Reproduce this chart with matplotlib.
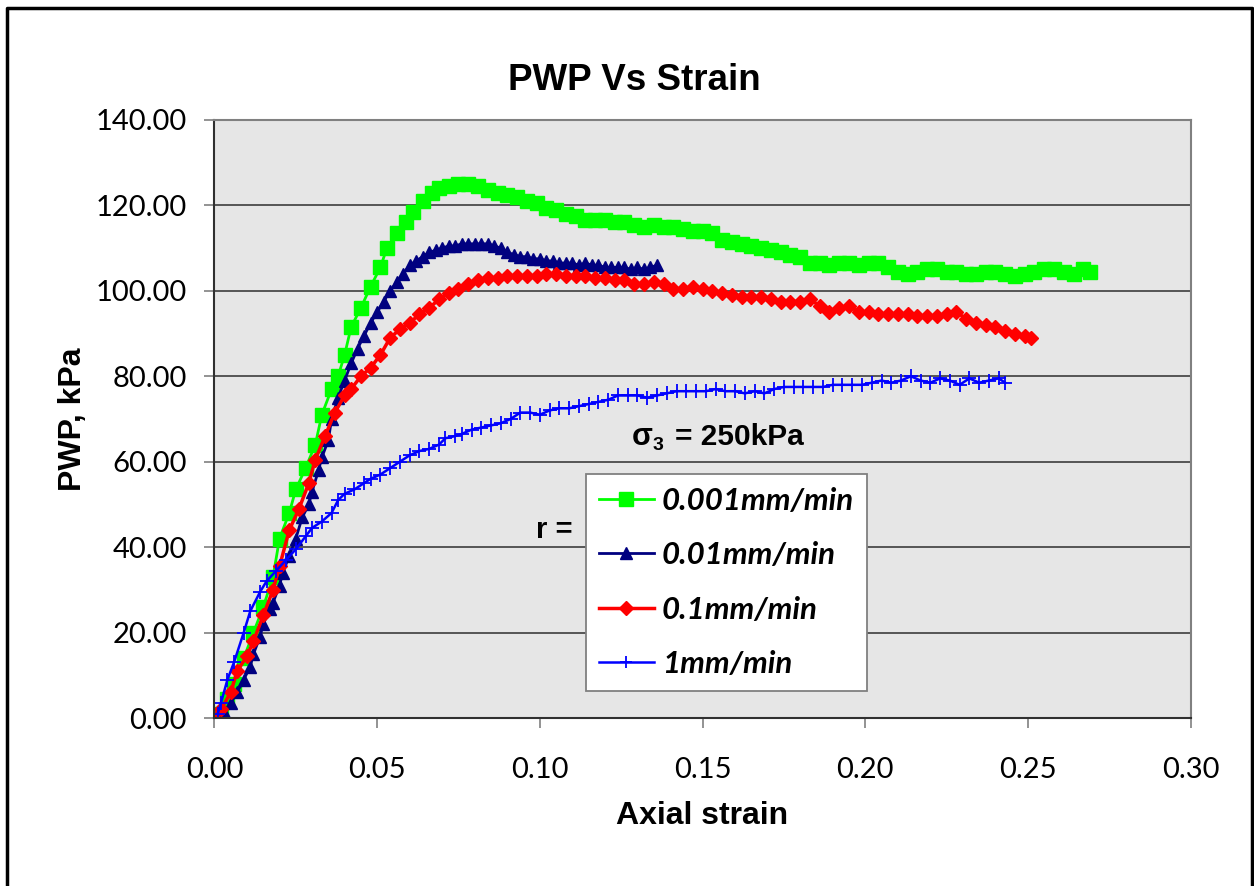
"""
PWP vs axial strain for four loading rates
"""

import matplotlib
matplotlib.use('Agg')
import matplotlib.pyplot as plt
from matplotlib.lines import Line2D
from matplotlib.ticker import FormatStrFormatter

# data
green_strain = [0.000, 0.002, 0.004, 0.006, 0.009, 0.012, 0.015, 0.018, 0.020, 0.023, 0.025, 0.028,
                0.031, 0.033, 0.036, 0.038, 0.040, 0.042, 0.045, 0.048, 0.051, 0.053, 0.056, 0.059,
                0.061, 0.064, 0.067, 0.069, 0.072, 0.075, 0.078, 0.081, 0.084, 0.087, 0.090, 0.093,
                0.096, 0.099, 0.102, 0.105, 0.108, 0.111, 0.114, 0.117, 0.120, 0.123, 0.126, 0.129,
                0.132, 0.135, 0.138, 0.141, 0.144, 0.147, 0.150, 0.153, 0.156, 0.159, 0.162, 0.165,
                0.168, 0.171, 0.174, 0.177, 0.180, 0.183, 0.186, 0.189, 0.192, 0.195, 0.198, 0.201,
                0.204, 0.207, 0.210, 0.213, 0.216, 0.219, 0.222, 0.225, 0.228, 0.231, 0.234, 0.237,
                0.240, 0.243, 0.246, 0.249, 0.252, 0.255, 0.258, 0.261, 0.264, 0.267, 0.269]
green_pwp = [0, 1, 4.5, 8, 14, 20, 26, 33, 42, 48, 53.5, 58.5,
             64, 71, 77, 80, 85, 91.5, 96, 101, 105.5, 110, 113.5, 116,
             118.5, 121, 123, 124, 124.5, 125, 125, 124.5, 123.5, 123, 122.5, 122,
             121, 120.5, 119.5, 119, 118, 117.5, 116.5, 116.5, 116.5, 116, 116, 115.5,
             115, 115.5, 115, 115, 114.5, 114, 114, 113.5, 112, 111.5, 111, 110.5,
             110, 109.5, 109, 108.5, 108, 106.5, 106.5, 106, 106.5, 106.5, 106, 106.5,
             106.5, 105.5, 104.5, 104, 104.5, 105, 105, 104.5, 104.5, 104, 104, 104.5,
             104.5, 104, 103.5, 104, 104.5, 105, 105, 104.5, 104, 105, 104.5]

navy_strain = [0.000, 0.003, 0.005, 0.007, 0.009, 0.011, 0.012, 0.014, 0.015, 0.017, 0.018, 0.020,
               0.021, 0.023, 0.025, 0.027, 0.029, 0.030, 0.032, 0.033, 0.035, 0.036, 0.038, 0.040,
               0.042, 0.044, 0.046, 0.048, 0.050, 0.052, 0.054, 0.056, 0.058, 0.060, 0.062, 0.064,
               0.066, 0.068, 0.070, 0.072, 0.074, 0.076, 0.078, 0.080, 0.082, 0.084, 0.086, 0.088,
               0.090, 0.092, 0.094, 0.096, 0.098, 0.100, 0.102, 0.104, 0.106, 0.108, 0.110, 0.112,
               0.114, 0.116, 0.118, 0.120, 0.122, 0.124, 0.126, 0.128, 0.130, 0.132, 0.134, 0.136]
navy_pwp = [0, 1.5, 3.5, 6, 9, 12, 15, 19, 22, 25.5, 27, 31,
            34, 38, 42, 47, 50, 53, 58, 61, 65, 70, 75, 79,
            83, 86.5, 89.5, 92.5, 95, 97.5, 100, 102, 104, 106, 107, 108,
            109, 109.5, 110, 110.5, 110.5, 111, 111, 111, 111, 111, 110.5, 110,
            109, 108.5, 108, 108, 107.5, 107.5, 107, 107, 106.5, 106.5, 106.5, 106,
            106.5, 106, 106, 105.5, 105.5, 105.5, 105.5, 105, 105.5, 105, 105.5, 106]

red_strain = [0.000, 0.002, 0.005, 0.007, 0.010, 0.012, 0.015, 0.018, 0.020, 0.023, 0.026, 0.029,
              0.031, 0.034, 0.037, 0.040, 0.042, 0.045, 0.048, 0.051, 0.054, 0.057, 0.060, 0.063,
              0.066, 0.069, 0.072, 0.075, 0.078, 0.081, 0.084, 0.087, 0.090, 0.093, 0.096, 0.099,
              0.102, 0.105, 0.108, 0.111, 0.114, 0.117, 0.120, 0.123, 0.126, 0.129, 0.132, 0.135,
              0.138, 0.141, 0.144, 0.147, 0.150, 0.153, 0.156, 0.159, 0.162, 0.165, 0.168, 0.171,
              0.174, 0.177, 0.180, 0.183, 0.186, 0.189, 0.192, 0.195, 0.198, 0.201, 0.204, 0.207,
              0.210, 0.213, 0.216, 0.219, 0.222, 0.225, 0.228, 0.231, 0.234, 0.237, 0.240, 0.243,
              0.246, 0.249, 0.251]
red_pwp = [0, 2, 6, 11, 14.5, 18, 24, 30, 35.5, 44, 49, 55,
           60.5, 66, 71.5, 75.5, 77, 80, 82, 85, 89, 91, 92.5, 94.5,
           96, 98, 99.5, 100.5, 101.5, 102.5, 103, 103, 103.5, 103.5, 103.5, 103.5,
           104, 104, 103.5, 103.5, 103.5, 103, 103, 102.5, 102.5, 101.5, 101.5, 102,
           101.5, 100.5, 100.5, 101, 100.5, 100, 99.5, 99, 98.5, 98.5, 98.5, 98,
           97.5, 97.5, 97.5, 98, 96.5, 95, 96, 96.5, 95, 95, 94.5, 94.5,
           94.5, 94.5, 94, 94, 94, 94.5, 95, 93.5, 92.5, 92, 91.5, 90.5,
           90, 89.5, 89]

blue_strain = [0.001, 0.002, 0.004, 0.006, 0.009, 0.011, 0.014, 0.016, 0.019, 0.022, 0.025, 0.028,
               0.030, 0.033, 0.036, 0.038, 0.040, 0.043, 0.046, 0.048, 0.051, 0.054, 0.057, 0.060,
               0.063, 0.066, 0.069, 0.071, 0.074, 0.076, 0.079, 0.082, 0.085, 0.088, 0.091, 0.094,
               0.097, 0.100, 0.103, 0.106, 0.109, 0.112, 0.115, 0.118, 0.121, 0.124, 0.127, 0.130,
               0.133, 0.136, 0.139, 0.142, 0.145, 0.148, 0.151, 0.154, 0.157, 0.160, 0.163, 0.166,
               0.169, 0.172, 0.175, 0.178, 0.181, 0.184, 0.187, 0.190, 0.193, 0.196, 0.199, 0.202,
               0.205, 0.208, 0.211, 0.214, 0.217, 0.220, 0.223, 0.226, 0.229, 0.232, 0.235, 0.238,
               0.241, 0.243]
blue_pwp = [1, 3.5, 9, 13, 20, 25, 29.5, 32, 34.5, 37, 39.5, 42.5,
            44.5, 46, 48, 51, 52.5, 53.5, 55, 56, 57, 58.5, 60, 61.5,
            62.5, 63, 64, 65.5, 66, 66.5, 67.5, 68, 68.5, 69, 70, 71.5,
            71.5, 71, 72, 72.5, 72.5, 73, 73.5, 74, 74.5, 75.5, 75.5, 75.5,
            75, 75.5, 76, 76.5, 76.5, 76.5, 76.5, 77, 76.5, 76.5, 76, 76.5,
            76, 77, 77.5, 77.5, 77.5, 77.5, 77.5, 78, 78, 78, 78, 78.5,
            79, 78.5, 79, 80, 79, 78.5, 79.5, 79, 78, 79.5, 78.5, 79,
            79.5, 78.5]

labels = ['0.001mm/min', '0.01mm/min', '0.1mm/min', '1mm/min']

fig = plt.figure(figsize=(12.54, 8.86), dpi=100)
ax = fig.add_axes([0.171, 0.1896, 0.7785, 0.675])
ax.set_facecolor('#e6e6e6')

ax.plot(green_strain, green_pwp, color='#00ff00', lw=2, marker='s', ms=10.5,
        mec='#00ff00', label=labels[0])
ax.plot(navy_strain, navy_pwp, color='#000080', lw=2, marker='^', ms=9,
        mec='#000080', label=labels[1])
ax.plot(red_strain, red_pwp, color='#ff0000', lw=2.5, marker='D', ms=7.5,
        mec='#ff0000', label=labels[2])
ax.plot(blue_strain, blue_pwp, color='#0000ff', lw=1.8, marker='+', ms=10,
        mew=1.3, label=labels[3])

ax.set_xlim(0, 0.30)
ax.set_ylim(0, 140)
ax.set_xticks([0, 0.05, 0.10, 0.15, 0.20, 0.25, 0.30])
ax.set_yticks(range(0, 141, 20))
ax.xaxis.set_major_formatter(FormatStrFormatter('%.2f'))
ax.yaxis.set_major_formatter(FormatStrFormatter('%.2f'))
ax.yaxis.grid(True, color='#4a4a4a', lw=1.3)
ax.set_axisbelow(True)
ax.tick_params(direction='out', length=7, width=1.2, color='#808080')
ax.tick_params(axis='y', pad=13)
ax.tick_params(axis='x', pad=21)
for lab in ax.get_xticklabels() + ax.get_yticklabels():
    lab.set_fontfamily('Lato')
    lab.set_fontsize(21)

for side in ['top', 'right']:
    ax.spines[side].set_color('#808080')
    ax.spines[side].set_linewidth(1.5)
for side in ['left', 'bottom']:
    ax.spines[side].set_color('#303030')
    ax.spines[side].set_linewidth(1.5)

ax.set_xlabel('Axial strain', fontfamily='Liberation Sans', fontweight='bold',
              fontsize=23, labelpad=13)
ax.set_ylabel('PWP, kPa', fontfamily='Liberation Sans', fontweight='bold',
              fontsize=23, labelpad=5)
fig.text(0.506, 0.909, 'PWP Vs Strain', ha='center', va='center',
         fontfamily='Liberation Sans', fontweight='bold', fontsize=26.5)

# sigma_3 annotation
ax.text(0.427, 0.47, 'σ', transform=ax.transAxes, ha='left', va='center',
        fontfamily='Liberation Sans', fontweight='bold', fontsize=22)
ax.text(0.449, 0.455, '3', transform=ax.transAxes, ha='left', va='center',
        fontfamily='Liberation Sans', fontweight='bold', fontsize=14)
ax.text(0.4717, 0.47, '= 250kPa', transform=ax.transAxes, ha='left', va='center',
        fontfamily='Liberation Sans', fontweight='bold', fontsize=21.5)
ax.text(0.329, 0.314, 'r =', transform=ax.transAxes, ha='left', va='center',
        fontfamily='Liberation Sans', fontweight='bold', fontsize=21)

leg = ax.legend(loc='upper left', bbox_to_anchor=(0.3806, 0.408), borderaxespad=0,
                fancybox=False, framealpha=1, edgecolor='#808080', facecolor='white',
                prop={'family': 'Lato', 'weight': 'bold', 'style': 'italic', 'size': 22.5},
                handlelength=1.75, handletextpad=0.25, labelspacing=0.84, borderpad=0.42,
                markerscale=0.9)
leg.get_frame().set_linewidth(1.3)

# outer chart border
fig.add_artist(Line2D([0.0056, 0.0056, 0.9984, 0.9984], [0, 0.991, 0.991, 0],
                      transform=fig.transFigure, color='black', lw=2.5))

fig.savefig('out.png', dpi=100)
